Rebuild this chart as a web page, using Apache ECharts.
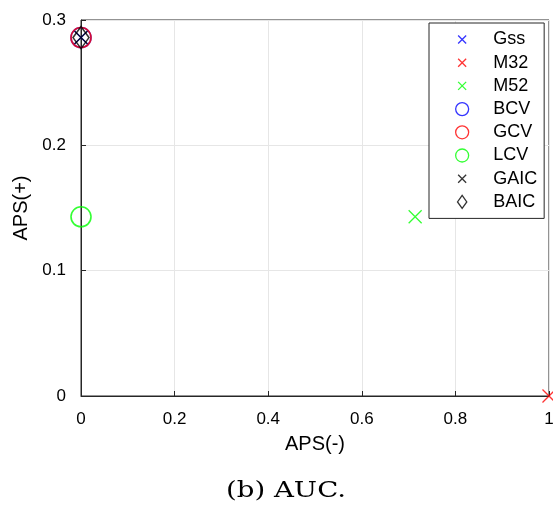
<!DOCTYPE html>
<html>
<head>
<meta charset="utf-8">
<script src="https://cdn.jsdelivr.net/npm/echarts@6/dist/echarts.min.js"></script>
<style>
  html, body { margin: 0; padding: 0; background: #fff; }
  #chart { width: 553px; height: 509px; }
</style>
</head>
<body>
<div id="chart"></div>
<script>
// method names and their (APS(-), APS(+)) results
const methods = ['Gss', 'M32', 'M52', 'BCV', 'GCV', 'LCV', 'GAIC', 'BAIC']
const apsMinus = [0, 1, 0.714, 0, 0, 0, 0, 0]
const apsPlus = [0.286, 0, 0.143, 0.286, 0.286, 0.143, 0.286, 0.286]
const colors = ['#0000ff', '#ff0000', '#00ff00', '#0000ff', '#ff0000', '#00ff00', '#000000', '#000000']
const shapes = ['cross', 'cross', 'cross', 'circle', 'circle', 'circle', 'cross', 'diamond']
const xTicks = [0, 0.2, 0.4, 0.6, 0.8, 1]
const yTicks = [0, 0.1, 0.2, 0.3]

const font = 'Liberation Sans, Arial, sans-serif'

function symbolOf(shape, small) {
  if (shape === 'cross') {
    // zero-length corner segments widen the box so the legend cross draws smaller
    return small ? 'path://M0,0L0,0M2.5,2.5L10.5,10.5M10.5,2.5L2.5,10.5M13,13L13,13'
                 : 'path://M0,0L10,10M10,0L0,10'
  }
  if (shape === 'diamond') return 'path://M5,0L10,7L5,14L0,7Z'
  return 'circle'
}
function plotSize(shape) {
  if (shape === 'cross') return 13
  if (shape === 'diamond') return [16, 22]
  return 20
}

const chart = echarts.init(document.getElementById('chart'))

const series = methods.map((name, i) => ({
  name: name,
  type: 'scatter',
  clip: false,
  symbol: symbolOf(shapes[i]),
  symbolSize: plotSize(shapes[i]),
  itemStyle: {
    color: 'transparent',
    borderColor: colors[i],
    borderWidth: shapes[i] === 'cross' ? 1.3 : 1.6
  },
  emphasis: { disabled: true },
  data: [[apsMinus[i], apsPlus[i]]],
  z: 2 + i
}))

chart.setOption({
  animation: false,
  grid: {
    left: 81, right: 4, top: 20, bottom: 113,
    outerBoundsMode: 'none',
    containLabel: false,
    show: true,
    borderColor: '#262626',
    borderWidth: 1
  },
  legend: {
    orient: 'vertical',
    left: 429,
    top: 23,
    padding: [7.5, 7, 7.5, 26],
    itemGap: 5.2,
    itemWidth: 52,
    itemHeight: 13,
    backgroundColor: '#fff',
    borderColor: '#262626',
    borderWidth: 1,
    textStyle: { fontFamily: font, fontSize: 18, color: '#000' },
    data: methods.map((name, i) => ({
      name: name,
      icon: symbolOf(shapes[i], true),
      itemStyle: {
        color: 'transparent',
        borderColor: colors[i],
        borderWidth: 1.3
      }
    }))
  },
  xAxis: {
    type: 'value',
    min: 0, max: 1, interval: 0.2,
    name: 'APS(-)',
    nameLocation: 'middle',
    nameGap: 38,
    nameTextStyle: { fontFamily: font, fontSize: 20, color: '#000' },
    axisLine: { show: true, lineStyle: { color: '#262626' } },
    axisTick: { show: true, inside: true, length: 5, lineStyle: { color: '#262626' } },
    axisLabel: {
      fontFamily: font, fontSize: 17, color: '#000', margin: 15,
      formatter: v => xTicks.indexOf(+v.toFixed(1)) >= 0 ? String(+v.toFixed(1)) : ''
    },
    splitLine: { show: true, lineStyle: { color: '#e6e6e6' } }
  },
  yAxis: {
    type: 'value',
    min: 0, max: 0.3, interval: 0.1,
    name: 'APS(+)',
    nameLocation: 'middle',
    nameGap: 43,
    nameTextStyle: { fontFamily: font, fontSize: 20, color: '#000' },
    axisLine: { show: true, lineStyle: { color: '#262626' } },
    axisTick: { show: true, inside: true, length: 5, lineStyle: { color: '#262626' } },
    axisLabel: {
      fontFamily: font, fontSize: 17, color: '#000', margin: 15,
      formatter: v => yTicks.indexOf(+v.toFixed(1)) >= 0 ? String(+v.toFixed(1)) : ''
    },
    splitLine: { show: true, lineStyle: { color: '#e6e6e6' } }
  },
  graphic: [{
    type: 'text',
    x: 286,
    y: 491,
    scaleX: 1.2,
    style: {
      text: '(b) AUC.',
      font: '23px "DejaVu Serif", "Liberation Serif", serif',
      fill: '#000',
      align: 'center',
      verticalAlign: 'middle'
    }
  }],
  series: series
})
</script>
</body>
</html>
